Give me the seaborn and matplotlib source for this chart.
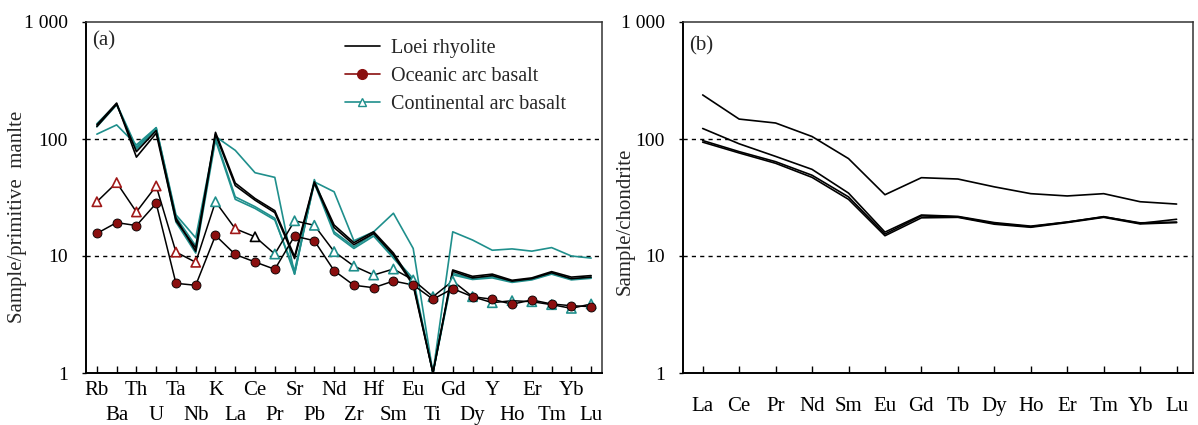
import numpy as np
import pandas as pd
import matplotlib
matplotlib.use("Agg")
import matplotlib.pyplot as plt
from matplotlib.lines import Line2D
from matplotlib.ticker import FixedLocator, NullLocator
import seaborn as sns

# ---------------- data ----------------
elements_a = ['Rb', 'Ba', 'Th', 'U', 'Ta', 'Nb', 'K', 'La', 'Ce', 'Pr', 'Sr', 'Pb', 'Nd',
              'Zr', 'Hf', 'Sm', 'Eu', 'Ti', 'Gd', 'Dy', 'Y', 'Ho', 'Er', 'Tm', 'Yb', 'Lu']

loei_black_1 = [132, 203, 70, 112, 20, 11.7, 114, 42, 31, 24.4, 9.9, 43, 18.4,
                13, 16.1, 10.6, 5.8, 1.0, 7.6, 6.7, 7.0, 6.2, 6.5, 7.35, 6.6, 6.8]
loei_black_2 = [128, 198, 78, 118, 21, 11.0, 110, 40, 30, 23.5, 9.5, 42, 17.5,
                12.5, 15.6, 10.2, 5.6, 1.0, 7.4, 6.5, 6.8, 6.1, 6.4, 7.2, 6.4, 6.6]
loei_teal_1 = [110, 132, 89, 125, 22.5, 14.3, 105, 80, 51.5, 47, 7.0, 43, 35.4,
               13.5, 16.1, 23.2, 11.6, 1.0, 16.1, 13.7, 11.2, 11.5, 11.0, 11.8, 10.0, 9.6]
loei_teal_2 = [135, 200, 85, 125, 21.5, 12.2, 102, 32, 26.4, 21, 7.0, 45, 16.1,
               12, 15.4, 9.9, 6.4, 1.0, 7.1, 6.4, 6.66, 6.04, 6.35, 7.1, 6.35, 6.58]
loei_teal_3 = [127, 196, 82, 121, 19.5, 10.6, 98, 30.5, 25.5, 20.3, 7.5, 42, 15.5,
               11.6, 14.8, 9.6, 6.1, 1.0, 6.9, 6.3, 6.5, 5.95, 6.25, 7.0, 6.25, 6.45]

oceanic_arc = [15.6, 19.3, 18.2, 28.2, 5.84, 5.62, 15.0, 10.3, 8.89, 7.70, 14.8, 13.5, 7.49,
               5.62, 5.36, 6.11, 5.65, 4.27, 5.26, 4.49, 4.27, 3.87, 4.21, 3.89, 3.76, 3.69]
continental_arc = [29.1, 42.4, 23.8, 39.7, 10.8, 8.84, 29.1, 17.1, 14.6, 10.4, 20.0, 18.3, 10.9,
                   8.2, 6.88, 7.74, 6.24, 4.49, 6.11, 4.49, 3.99, 4.15, 4.07, 3.84, 3.57, 3.89]

elements_b = ['La', 'Ce', 'Pr', 'Nd', 'Sm', 'Eu', 'Gd', 'Tb', 'Dy', 'Ho', 'Er', 'Tm', 'Yb', 'Lu']
ree_1 = [238, 148, 137, 105, 68, 33.4, 46.7, 45.5, 39, 34.1, 32.6, 34.1, 29.1, 27.8]
ree_2 = [123, 91, 71, 55, 34.5, 16.0, 22.4, 21.8, 19.3, 18.0, 19.5, 21.7, 19.0, 20.6]
ree_3 = [97, 78, 64, 49, 32, 15.4, 22.0, 21.6, 19.0, 17.8, 19.5, 21.6, 19.2, 19.5]
ree_4 = [94, 76, 62, 47, 30.5, 14.9, 21.2, 21.4, 18.7, 17.6, 19.3, 21.4, 18.8, 19.3]

ytick_values = [1, 10, 100, 1000]
ytick_labels = ['1', '10', '100', '1 000']

# ---------------- style ----------------
sns.set_theme(style="white")
plt.rcParams['font.family'] = ['Liberation Serif', 'DejaVu Serif']

TEAL = '#1f8f8c'
DARKRED = '#8a0f0f'
TRI_RED = '#a01818'

fig = plt.figure(figsize=(11.98, 4.25), dpi=100)
ax_a = fig.add_axes([86 / 1198, 1 - 373 / 425, (602 - 86) / 1198, (373 - 22) / 425])
ax_b = fig.add_axes([683 / 1198, 1 - 373 / 425, (1193 - 683) / 1198, (373 - 22) / 425])

xa = np.arange(len(elements_a))
xb = np.arange(len(elements_b))

# ---- panel a ----
for vals, col in [(loei_teal_1, TEAL), (loei_teal_2, TEAL), (loei_teal_3, TEAL),
                  (loei_black_1, 'black'), (loei_black_2, 'black')]:
    sns.lineplot(x=xa, y=vals, ax=ax_a, color=col, lw=1.2, legend=False)

sns.lineplot(x=xa, y=continental_arc, ax=ax_a, color='black', lw=1.1, legend=False)
sns.lineplot(x=xa, y=oceanic_arc, ax=ax_a, color='black', lw=1.1, legend=False)

tri_edge = [TRI_RED if e in ('Rb', 'Ba', 'Th', 'U', 'Ta', 'Nb', 'La') else
            ('black' if e == 'Ce' else TEAL) for e in elements_a]
sns.scatterplot(x=xa, y=continental_arc, ax=ax_a, marker='^', s=45, color='white',
                edgecolor=tri_edge, linewidth=1.2, zorder=5, legend=False)
sns.scatterplot(x=xa, y=oceanic_arc, ax=ax_a, marker='o', s=42, color=DARKRED,
                edgecolor='black', linewidth=0.6, zorder=6, legend=False)

# ---- panel b ----
for vals in [ree_1, ree_2, ree_3, ree_4]:
    sns.lineplot(x=xb, y=vals, ax=ax_b, color='black', lw=1.2, legend=False)

for ax in (ax_a, ax_b):
    ax.set_yscale('log')
    ax.set_ylim(1, 1000)
    ax.yaxis.set_major_locator(FixedLocator(ytick_values))
    ax.yaxis.set_minor_locator(NullLocator())
    ax.set_yticklabels(ytick_labels)
    for v in (10, 100):
        ax.axhline(v, color='black', lw=1.0, ls=(0, (3, 3)), zorder=1)
    for s in ax.spines.values():
        s.set_color('#333333')
        s.set_linewidth(1.1)
    ax.spines['left'].set_color('black')
    ax.spines['bottom'].set_color('black')
    ax.spines['left'].set_linewidth(1.4)
    ax.spines['bottom'].set_linewidth(1.4)
    ax.tick_params(axis='y', which='major', direction='out', length=3, width=1,
                   pad=10, labelsize=14, colors='black', left=True)
    ax.tick_params(axis='x', which='both', direction='in', length=5, width=1,
                   labelsize=15, colors='black', bottom=True)
    ax.grid(False)

ax_a.set_xlim(-0.55, len(elements_a) - 1 + 0.55)
ax_a.set_xticks(xa[::2])
ax_a.set_xticklabels(elements_a[::2])
ax_a.set_xticks(xa[1::2], minor=True)
ax_a.set_xticklabels(elements_a[1::2], minor=True)
ax_a.tick_params(axis='x', which='major', pad=6)
ax_a.tick_params(axis='x', which='minor', pad=23.5)

ax_b.set_xlim(-0.54, len(elements_b) - 1 + 0.45)
ax_b.set_xticks(xb)
ax_b.set_xticklabels(elements_b)
ax_b.tick_params(axis='x', pad=17)

ax_a.set_ylabel('Sample/primitive  manlte', fontsize=15)
ax_b.set_ylabel('Sample/chondrite', fontsize=15)
ax_a.yaxis.set_label_coords(-0.114, 0.444)
ax_b.yaxis.set_label_coords(-0.094, 0.433)

ax_a.text(0.012, 0.975, '(a)', transform=ax_a.transAxes, fontsize=15, va='top', ha='left')
ax_b.text(0.012, 0.96, '(b)', transform=ax_b.transAxes, fontsize=15, va='top', ha='left')

handles = [
    Line2D([], [], color='black', lw=1.2),
    Line2D([], [], color=DARKRED, lw=1.2, marker='o', markersize=7, markerfacecolor=DARKRED,
           markeredgecolor=DARKRED),
    Line2D([], [], color=TEAL, lw=1.2, marker='^', markersize=6, markerfacecolor='white',
           markeredgecolor=TEAL),
]
ax_a.legend(handles, ['Loei rhyolite', 'Oceanic arc basalt', 'Continental arc basalt'],
            loc='upper left', bbox_to_anchor=(0.486, 0.975), frameon=False, fontsize=14.5,
            handlelength=1.75, handletextpad=0.55, labelspacing=0.45, borderaxespad=0)

fig.savefig('out.png', dpi=100)
